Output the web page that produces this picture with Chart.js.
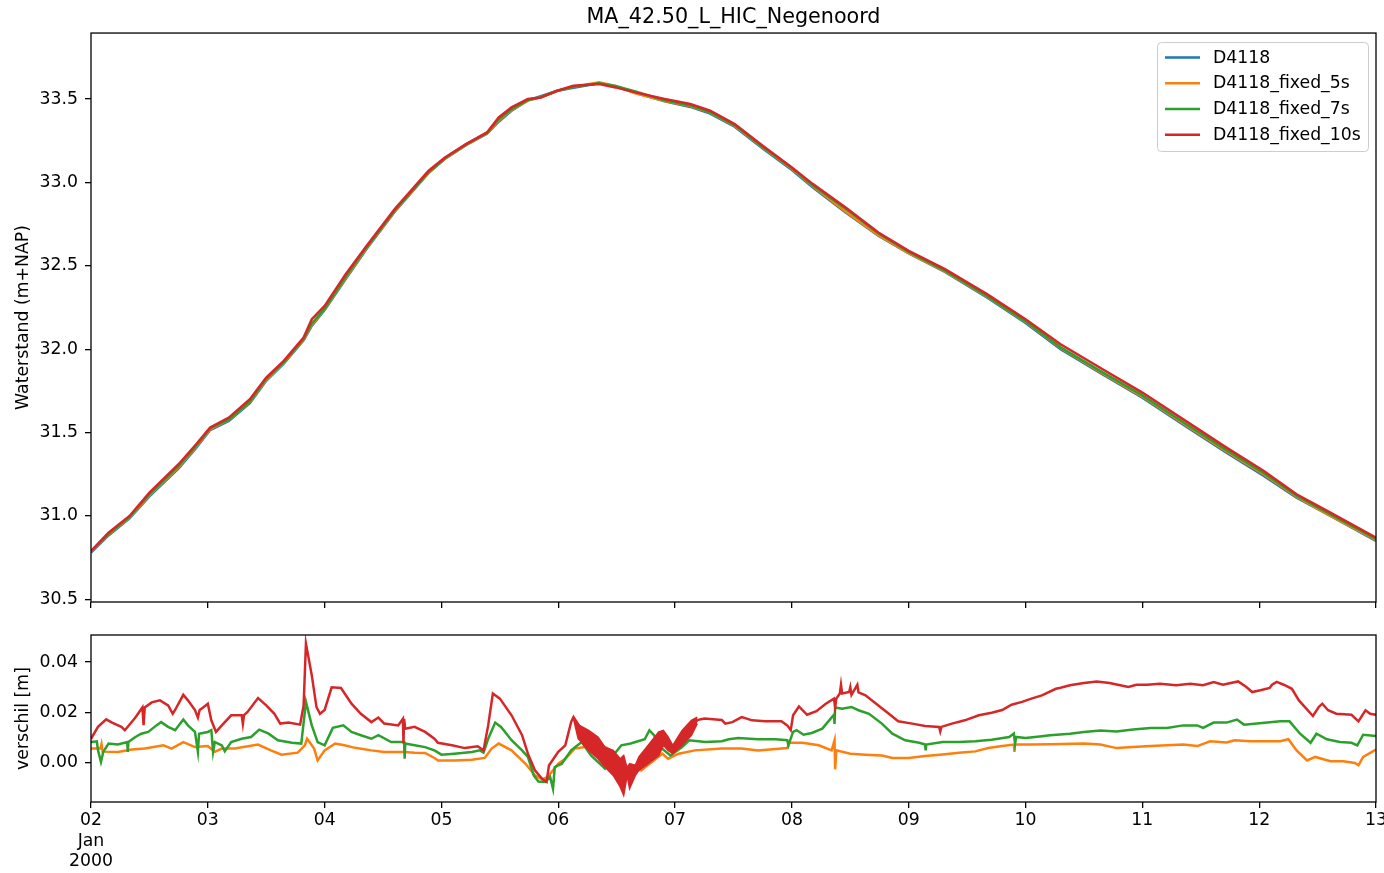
<!DOCTYPE html>
<html><head><meta charset="utf-8">
<script src="https://cdn.jsdelivr.net/npm/chart.js@4.4.1/dist/chart.umd.min.js"></script>
<style>
html,body{margin:0;padding:0;background:#fff;}
#wrap{position:relative;width:1384px;height:873px;overflow:hidden;}
.box{position:absolute;left:0;width:1384px;}
</style></head><body>
<div id="wrap">
<div class="box" style="top:0;height:620px"><canvas id="c1" width="1384" height="620"></canvas></div>
<div class="box" style="top:620px;height:253px"><canvas id="c2" width="1384" height="253"></canvas></div>
</div>
<script>
// ---------- data (days since 2000-01-02 00:00) ----------
const seriesNames = ['D4118', 'D4118_fixed_5s', 'D4118_fixed_7s', 'D4118_fixed_10s'];
const xTickValues = [0,1,2,3,4,5,6,7,8,9,10,11];
const xTickLabels = [['02','Jan','2000'],'03','04','05','06','07','08','09','10','11','12','13'];
const topYTicks = [30.5,31.0,31.5,32.0,32.5,33.0,33.5];
const diffYTicks = [0.00,0.02,0.04];

const topDays = [0,0.15,0.33,0.5,0.75,0.9,1.02,1.18,1.36,1.5,1.65,1.82,1.89,2.0,2.18,2.36,2.6,2.89,3.03,3.21,3.39,3.49,3.6,3.74,3.85,3.99,4.13,4.35,4.49,4.66,4.91,5.13,5.3,5.51,5.75,6.0,6.18,6.46,6.74,7.0,7.31,7.67,8.0,8.3,8.66,9.0,9.37,9.72,10.04,10.32,10.61,11.0];
const wlD4118 = [30.780,30.883,30.985,31.117,31.285,31.408,31.515,31.570,31.676,31.810,31.914,32.054,32.140,32.235,32.420,32.602,32.824,33.057,33.142,33.224,33.292,33.364,33.430,33.492,33.517,33.550,33.568,33.595,33.575,33.537,33.487,33.453,33.413,33.334,33.204,33.074,32.970,32.820,32.680,32.574,32.463,32.310,32.157,32.000,31.848,31.709,31.538,31.379,31.240,31.110,31.000,30.851];
const wlFixed5 = [30.786,30.888,30.990,31.123,31.292,31.414,31.521,31.576,31.682,31.815,31.918,32.058,32.146,32.240,32.427,32.607,32.828,33.059,33.143,33.225,33.295,33.372,33.435,33.491,33.511,33.549,33.574,33.601,33.579,33.535,33.489,33.458,33.419,33.340,33.209,33.082,32.977,32.824,32.683,32.576,32.466,32.316,32.164,32.008,31.855,31.716,31.545,31.387,31.249,31.115,31.001,30.856];
const wlFixed7 = [30.788,30.891,30.994,31.130,31.301,31.420,31.527,31.578,31.686,31.822,31.923,32.062,32.155,32.242,32.434,32.612,32.832,33.062,33.145,33.228,33.298,33.379,33.439,33.494,33.510,33.548,33.574,33.595,33.579,33.545,33.492,33.462,33.421,33.344,33.213,33.086,32.982,32.842,32.696,32.583,32.471,32.319,32.167,32.011,31.861,31.723,31.553,31.395,31.256,31.122,31.009,30.862];
const wlFixed10 = [30.790,30.900,31.000,31.140,31.310,31.430,31.530,31.590,31.700,31.830,31.930,32.070,32.180,32.260,32.450,32.620,32.840,33.070,33.150,33.230,33.300,33.390,33.450,33.500,33.510,33.550,33.580,33.590,33.570,33.540,33.500,33.470,33.430,33.350,33.220,33.090,32.990,32.850,32.700,32.590,32.480,32.330,32.180,32.030,31.880,31.740,31.570,31.410,31.270,31.130,31.020,30.870];

const t5 = [0,0.08,0.09,0.10,0.23,0.35,0.46,0.62,0.69,0.79,0.89,1.0,1.06,1.12,1.23,1.43,1.54,1.63,1.77,1.83,1.85,1.91,1.94,2.0,2.09,2.17,2.26,2.40,2.51,2.68,2.77,2.86,2.94,2.97,3.11,3.26,3.37,3.43,3.49,3.60,3.72,3.80,3.86,3.91,4.0,4.06,4.14,4.23,4.40,4.47,4.54,4.62,4.71,4.80,4.89,4.94,5.03,5.17,5.40,5.57,5.71,5.96,5.98,6.09,6.23,6.34,6.365,6.37,6.38,6.50,6.63,6.77,6.86,7.0,7.14,7.29,7.43,7.57,7.68,7.80,7.90,7.905,7.91,8.05,8.21,8.50,8.64,8.78,8.92,9.07,9.21,9.35,9.47,9.58,9.72,9.79,9.92,10.07,10.18,10.25,10.32,10.41,10.48,10.55,10.61,10.72,10.82,10.85,10.89,11.0];
const diff5 = [0.0057,0.0057,0.0075,0.0045,0.0044,0.0053,0.0057,0.007,0.0057,0.0083,0.0063,0.0067,0.0044,0.0057,0.0057,0.0073,0.005,0.0033,0.0041,0.007,0.0096,0.0057,0.001,0.005,0.0077,0.007,0.006,0.005,0.0044,0.0044,0.0041,0.004,0.002,0.001,0.001,0.0013,0.002,0.0057,0.0077,0.005,-0.0003,-0.0049,-0.0065,-0.0055,-0.0003,0.0017,0.0057,0.0063,0.0063,0.0044,0.0004,-0.0022,-0.0029,0.0004,0.0037,0.0017,0.0037,0.005,0.0057,0.0057,0.005,0.0059,0.008,0.008,0.007,0.005,0.009,-0.0025,0.005,0.0037,0.0033,0.003,0.002,0.002,0.0028,0.0034,0.0041,0.0046,0.0059,0.0067,0.0073,0.0044,0.0073,0.0073,0.0074,0.0077,0.0073,0.0059,0.0063,0.0067,0.007,0.0073,0.0067,0.0086,0.0081,0.009,0.0086,0.0086,0.0086,0.0094,0.005,0.001,0.0024,0.0015,0.0007,0.0007,0.0,-0.0009,0.0024,0.0053];

const t7 = [0,0.05,0.06,0.085,0.105,0.15,0.23,0.31,0.315,0.32,0.38,0.43,0.49,0.56,0.60,0.66,0.72,0.79,0.83,0.89,0.915,0.925,1.0,1.03,1.045,1.06,1.12,1.145,1.20,1.29,1.37,1.44,1.52,1.60,1.72,1.80,1.84,1.89,1.94,2.0,2.07,2.16,2.23,2.31,2.40,2.46,2.57,2.68,2.685,2.69,2.77,2.86,2.94,3.0,3.11,3.26,3.33,3.36,3.40,3.46,3.51,3.60,3.69,3.74,3.79,3.83,3.89,3.93,3.955,3.97,4.03,4.11,4.20,4.28,4.40,4.47,4.54,4.62,4.74,4.78,4.82,4.89,4.96,5.06,5.12,5.26,5.40,5.46,5.54,5.71,5.86,5.96,5.97,6.01,6.04,6.10,6.17,6.26,6.36,6.365,6.37,6.43,6.51,6.57,6.66,6.77,6.86,6.97,7.09,7.14,7.145,7.15,7.29,7.43,7.57,7.71,7.86,7.90,7.91,7.92,8.0,8.14,8.21,8.38,8.50,8.64,8.78,8.92,9.07,9.21,9.35,9.47,9.52,9.61,9.72,9.81,9.87,9.98,10.07,10.18,10.26,10.35,10.44,10.49,10.58,10.69,10.79,10.84,10.89,11.0];
const diff7 = [0.0083,0.0086,0.005,0.0004,0.0044,0.0077,0.0073,0.0083,0.0044,0.0083,0.0103,0.0116,0.0123,0.0149,0.0162,0.0143,0.013,0.0172,0.0149,0.0123,0.0044,0.0116,0.0123,0.013,0.0044,0.0083,0.007,0.0046,0.0083,0.0096,0.0103,0.0132,0.0116,0.009,0.008,0.0077,0.0242,0.0149,0.0083,0.007,0.0139,0.0149,0.0123,0.011,0.0096,0.011,0.0083,0.0083,0.0017,0.0077,0.007,0.0063,0.005,0.0033,0.0037,0.0044,0.005,0.0041,0.0096,0.016,0.0143,0.009,0.005,0.0024,-0.0049,-0.0073,-0.0075,-0.0055,-0.0102,-0.0016,-0.0003,0.005,0.0083,0.003,-0.0022,0.003,0.007,0.0077,0.0094,0.0129,0.011,0.0057,0.003,0.0063,0.009,0.0083,0.0086,0.0094,0.0099,0.0094,0.0094,0.009,0.007,0.0123,0.013,0.0112,0.0119,0.0136,0.0191,0.0155,0.022,0.0215,0.0222,0.0209,0.0195,0.0156,0.0116,0.009,0.008,0.0073,0.005,0.0073,0.0083,0.0083,0.0086,0.0092,0.0103,0.0117,0.0077,0.0103,0.0099,0.0106,0.011,0.0116,0.0123,0.0129,0.0125,0.0133,0.0139,0.0139,0.0149,0.0149,0.0139,0.016,0.016,0.0172,0.0152,0.0156,0.016,0.0165,0.0165,0.0116,0.008,0.0116,0.0094,0.0083,0.008,0.007,0.0112,0.0107];

const t10 = [0,0.06,0.13,0.18,0.26,0.29,0.38,0.44,0.45,0.46,0.52,0.59,0.66,0.70,0.72,0.79,0.83,0.89,0.915,0.93,0.96,1.0,1.03,1.07,1.12,1.20,1.29,1.30,1.31,1.34,1.43,1.50,1.57,1.62,1.69,1.79,1.82,1.84,1.89,1.93,1.96,2.0,2.06,2.14,2.23,2.31,2.40,2.46,2.51,2.63,2.67,2.675,2.68,2.69,2.77,2.86,2.94,2.97,3.09,3.20,3.31,3.36,3.40,3.44,3.50,3.60,3.69,3.74,3.80,3.86,3.90,3.92,4.0,4.06,4.11,4.13,4.26,4.40,4.53,4.66,4.77,4.90,4.98,5.06,5.19,5.25,5.40,5.43,5.49,5.57,5.66,5.77,5.91,5.96,5.99,6.01,6.06,6.13,6.21,6.29,6.36,6.37,6.38,6.41,6.42,6.43,6.49,6.50,6.51,6.54,6.56,6.57,6.63,6.74,6.83,6.91,7.03,7.14,7.26,7.27,7.28,7.37,7.48,7.60,7.71,7.80,7.88,7.97,8.05,8.14,8.26,8.30,8.38,8.50,8.61,8.72,8.81,8.88,8.95,9.04,9.15,9.29,9.41,9.52,9.61,9.69,9.82,9.89,9.94,10.01,10.09,10.11,10.15,10.21,10.28,10.34,10.39,10.46,10.51,10.54,10.59,10.66,10.79,10.85,10.91,10.95,11.0];
const diff10 = [0.0096,0.0143,0.0173,0.016,0.0143,0.013,0.018,0.022,0.015,0.022,0.024,0.0248,0.0228,0.0195,0.021,0.027,0.0248,0.021,0.018,0.021,0.022,0.0235,0.0169,0.0123,0.0149,0.0189,0.0189,0.0155,0.019,0.0202,0.0257,0.0228,0.0195,0.0156,0.016,0.0152,0.0228,0.0473,0.0347,0.0222,0.0195,0.021,0.030,0.0297,0.0235,0.0195,0.0162,0.018,0.0156,0.0149,0.0175,0.0077,0.0175,0.0136,0.0143,0.0123,0.0096,0.008,0.007,0.0059,0.0066,0.005,0.0149,0.0275,0.0255,0.0189,0.011,0.0037,-0.0029,-0.0062,-0.0075,-0.001,0.0044,0.007,0.0162,0.0182,0.009,0.0024,-0.004,-0.001,0.0033,0.010,0.005,0.010,0.017,0.0176,0.017,0.0156,0.0162,0.0182,0.0169,0.0165,0.0165,0.0149,0.013,0.0189,0.0224,0.0191,0.0205,0.0235,0.0255,0.022,0.0255,0.0275,0.031,0.0275,0.0281,0.030,0.027,0.0294,0.031,0.028,0.0268,0.0228,0.0195,0.0165,0.0156,0.0147,0.0143,0.0125,0.0143,0.0156,0.0169,0.0189,0.0199,0.021,0.0231,0.0242,0.0255,0.0268,0.0294,0.0298,0.0308,0.0317,0.0323,0.0317,0.0308,0.0301,0.031,0.031,0.0314,0.0308,0.0314,0.0308,0.0321,0.031,0.0323,0.0301,0.0281,0.0288,0.0297,0.031,0.0321,0.031,0.0294,0.0248,0.0222,0.0186,0.0222,0.0235,0.0209,0.0195,0.0191,0.0165,0.0209,0.0195,0.0191];

// oscillating envelope of the 10s difference (upper / lower edge)
const bandT = [4.13,4.17,4.26,4.34,4.40,4.47,4.53,4.56,4.59,4.61,4.66,4.69,4.77,4.86,4.90,4.94,4.98,5.06,5.14,5.19];
const bandHi = [0.0182,0.0152,0.0129,0.0103,0.0063,0.005,0.0017,0.003,-0.0022,-0.0003,-0.0009,0.0024,0.007,0.0123,0.0129,0.0103,0.007,0.0129,0.0169,0.0182];
const bandLo = [0.0176,0.0096,0.005,0.0017,-0.0016,-0.0049,-0.0095,-0.0128,-0.0049,-0.0102,-0.0049,-0.0029,-0.0003,0.003,0.007,0.005,0.0037,0.007,0.011,0.0156];

// axis ranges
const topYRange = [30.484, 33.896];
const diffYRange = [-0.01545, 0.0507];
const xRange = [0, 11];

// ---------- styling ----------
const COLORS = ['#1f77b4', '#ff7f0e', '#2ca02c', '#d62728'];
const FONT = "'DejaVu Sans', sans-serif";
const FS = 17.3;
Chart.defaults.font.family = FONT;
Chart.defaults.color = '#000';
const LW = 2.5;
const pts = (xs, ys) => xs.map((x, i) => ({x: x, y: ys[i]}));

const framePlugin = {
  id: 'frame',
  afterDraw(chart) {
    const a = chart.chartArea, ctx = chart.ctx;
    ctx.save();
    ctx.strokeStyle = '#000';
    ctx.lineWidth = 1.3;
    ctx.strokeRect(a.left, a.top, a.right - a.left, a.bottom - a.top);
    ctx.restore();
  }
};

const legendPlugin = {
  id: 'mplLegend',
  afterDraw(chart) {
    const a = chart.chartArea, ctx = chart.ctx;
    const w = 211, h = 109;
    const x0 = a.right - 8 - w, y0 = a.top + 9;
    ctx.save();
    ctx.beginPath();
    if (ctx.roundRect) ctx.roundRect(x0 + 0.5, y0 + 0.5, w, h, 4); else ctx.rect(x0 + 0.5, y0 + 0.5, w, h);
    ctx.fillStyle = 'rgba(255,255,255,0.8)';
    ctx.fill();
    ctx.strokeStyle = '#cccccc';
    ctx.lineWidth = 1;
    ctx.stroke();
    ctx.font = FS + 'px ' + FONT;
    ctx.textBaseline = 'middle';
    ctx.textAlign = 'left';
    chart.data.datasets.forEach((ds, i) => {
      const y = y0 + 15.5 + i * 25.7;
      ctx.strokeStyle = ds.borderColor;
      ctx.lineWidth = LW;
      ctx.beginPath();
      ctx.moveTo(x0 + 8, y);
      ctx.lineTo(x0 + 43, y);
      ctx.stroke();
      ctx.fillStyle = '#000';
      ctx.fillText(ds.label, x0 + 56, y + 0.5);
    });
    ctx.restore();
  }
};

function xAxis(showLabels, height) {
  return {
    type: 'linear', min: xRange[0], max: xRange[1],
    afterBuildTicks: s => { s.ticks = xTickValues.map(v => ({value: v})); },
    afterFit: s => { s.height = height; s.paddingLeft = 0; s.paddingRight = 0; },
    ticks: {
      display: showLabels, autoSkip: false, maxRotation: 0, minRotation: 0,
      padding: 2, color: '#000', font: {size: FS},
      callback: (v, i) => xTickLabels[i]
    },
    grid: {drawOnChartArea: false, drawTicks: true, tickLength: 6, color: '#000', tickColor: '#000', lineWidth: 1.3},
    border: {display: false}
  };
}
function yAxis(range, ticks, digits, title) {
  return {
    min: range[0], max: range[1],
    afterBuildTicks: s => { s.ticks = ticks.map(v => ({value: v})); },
    afterFit: s => { s.width = 91; s.paddingTop = 0; s.paddingBottom = 0; },
    ticks: {padding: 7, color: '#000', font: {size: FS}, callback: v => Number(v).toFixed(digits)},
    grid: {drawOnChartArea: false, drawTicks: true, tickLength: 6, color: '#000', tickColor: '#000', lineWidth: 1.3},
    border: {display: false},
    title: {display: true, text: title, color: '#000', font: {size: FS}, padding: {top: 13, bottom: 0}}
  };
}
const lineDs = (label, data, color, order) => ({
  label: label, data: data, borderColor: color, backgroundColor: color,
  borderWidth: LW, pointRadius: 0, tension: 0, fill: false, order: order
});

new Chart(document.getElementById('c1'), {
  type: 'line',
  data: {
    datasets: [
      lineDs(seriesNames[0], pts(topDays, wlD4118), COLORS[0], 3),
      lineDs(seriesNames[1], pts(topDays, wlFixed5), COLORS[1], 2),
      lineDs(seriesNames[2], pts(topDays, wlFixed7), COLORS[2], 1),
      lineDs(seriesNames[3], pts(topDays, wlFixed10), COLORS[3], 0)
    ]
  },
  options: {
    responsive: false, animation: false, parsing: false,
    layout: {padding: {top: 0, right: 8, left: 0, bottom: 0}},
    scales: {x: xAxis(false, 18), y: yAxis(topYRange, topYTicks, 1, 'Waterstand (m+NAP)')},
    plugins: {
      legend: {display: false}, tooltip: {enabled: false},
      title: {display: true, text: 'MA_42.50_L_HIC_Negenoord', color: '#000', fullSize: false,
              font: {size: 20.7, weight: 'normal'}, padding: {top: 5, bottom: 3.2}}
    }
  },
  plugins: [framePlugin, legendPlugin]
});

new Chart(document.getElementById('c2'), {
  type: 'line',
  data: {
    datasets: [
      lineDs(seriesNames[1], pts(t5, diff5), COLORS[1], 4),
      lineDs(seriesNames[2], pts(t7, diff7), COLORS[2], 3),
      lineDs(seriesNames[3], pts(t10, diff10), COLORS[3], 2),
      Object.assign(lineDs('band_hi', pts(bandT, bandHi), COLORS[3], 1), {borderWidth: 1.5}),
      Object.assign(lineDs('band_lo', pts(bandT, bandLo), COLORS[3], 0), {borderWidth: 1.5, fill: {target: 3}})
    ]
  },
  options: {
    responsive: false, animation: false, parsing: false,
    layout: {padding: {top: 15, right: 8, left: 0, bottom: 0}},
    scales: {x: xAxis(true, 71), y: yAxis(diffYRange, diffYTicks, 2, 'verschil [m]')},
    plugins: {legend: {display: false}, tooltip: {enabled: false}, title: {display: false}}
  },
  plugins: [framePlugin]
});
</script>
</body></html>
